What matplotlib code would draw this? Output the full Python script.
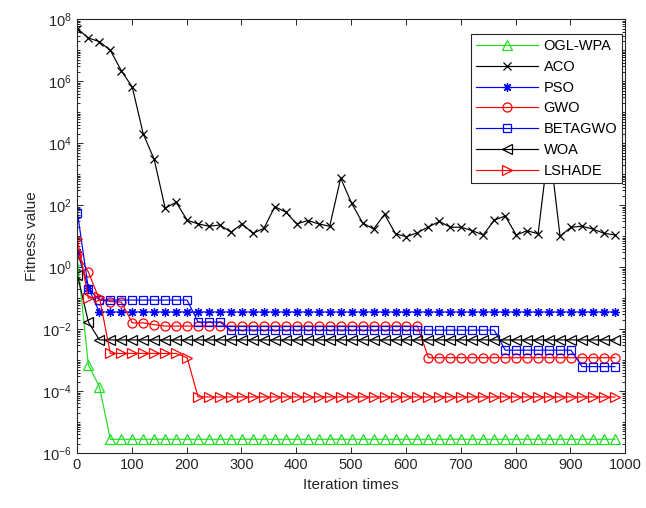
import numpy as np
import matplotlib
matplotlib.use('Agg')
import matplotlib.pyplot as plt
from matplotlib.ticker import LogLocator, NullFormatter, FixedLocator

plt.rcParams['font.family'] = ['Liberation Sans', 'DejaVu Sans']
plt.rcParams['mathtext.fontset'] = 'custom'
plt.rcParams['mathtext.rm'] = 'Liberation Sans'
plt.rcParams['mathtext.it'] = 'Liberation Sans'

# iterations where each curve was recorded (every 20th iteration)
iters = list(range(1, 1000, 20))

ogl_wpa = [1.7, 7e-4, 1.4e-4] + [2.8e-6] * 47
aco = [5e7, 2.5e7, 1.9e7, 1e7, 2.2e6, 6.5e5, 2e4, 3e3, 80, 125,
       33, 25, 21, 23, 13.5, 25, 12.4, 18, 90, 60,
       25, 32, 25, 21, 750, 115, 27, 17, 51, 12,
       9.6, 13, 20, 30, 19.5, 19.5, 15, 11, 33, 45,
       11, 15, 12, 1e4, 10, 19.5, 21, 17, 12.4, 11]
pso = [3.2, 0.21] + [0.036] * 48
gwo = [2.7, 0.7, 0.09, 0.078, 0.075, 0.016, 0.016, 0.014] + [0.0126] * 24 + [1.2e-3] * 18
betagwo = [58, 0.2] + [0.087] * 9 + [0.017] * 3 + [0.0093] * 25 + [0.0021] * 7 + [6.2e-4] * 4
woa = [0.56, 0.017] + [0.0045] * 48
lshade = [8, 0.1, 0.11] + [1.65e-3] * 7 + [1.2e-3] + [6.5e-5] * 39

names = ['OGL-WPA', 'ACO', 'PSO', 'GWO', 'BETAGWO', 'WOA', 'LSHADE']
series = [ogl_wpa, aco, pso, gwo, betagwo, woa, lshade]
colors = ['#22dd22', 'k', '#0000ff', '#ff0000', '#0000ff', 'k', '#ff0000']
markers = ['^', 'x', (8, 2, 0), 'o', 's', '<', '>']
msizes = [6.5, 5.5, 6.5, 6.5, 6, 6.5, 6.5]

fig = plt.figure(figsize=(6.46, 5.08), dpi=100)
ax = fig.add_axes([0.119, 0.108, 0.849, 0.854])

for name, vals, c, m, ms in zip(names, series, colors, markers, msizes):
    ax.plot(iters, vals, color=c, marker=m, markersize=ms, markerfacecolor='none',
            markeredgecolor=c, markeredgewidth=0.9, linewidth=0.85, label=name)

ax.set_yscale('log')
ax.set_xlim(0, 1000)
ax.set_ylim(1e-6, 1e8)
ax.set_xticks(range(0, 1001, 100))
ax.yaxis.set_major_locator(FixedLocator([10.0 ** k for k in range(-6, 9, 2)]))
ax.yaxis.set_minor_locator(LogLocator(base=10, subs=np.arange(1, 10), numticks=30))
ax.yaxis.set_minor_formatter(NullFormatter())

ax.tick_params(which='both', direction='in', top=True, right=True, colors='#262626',
               labelsize=10.5, width=0.7)
ax.tick_params(which='major', length=4)
ax.tick_params(which='minor', length=2)
for s in ax.spines.values():
    s.set_color('#262626')
    s.set_linewidth(0.8)

ax.set_xlabel('Iteration times', fontsize=11, color='#262626')
ax.set_ylabel('Fitness value', fontsize=11, color='#262626', labelpad=2)

leg = ax.legend(loc='upper right', bbox_to_anchor=(0.9945, 0.9666), borderaxespad=0,
                fontsize=10.5, handlelength=4.3, handletextpad=0.35, labelspacing=0.47,
                fancybox=False, framealpha=1, edgecolor='#262626', borderpad=0.35)
leg.get_frame().set_linewidth(0.8)

fig.savefig('out.png', dpi=100)
